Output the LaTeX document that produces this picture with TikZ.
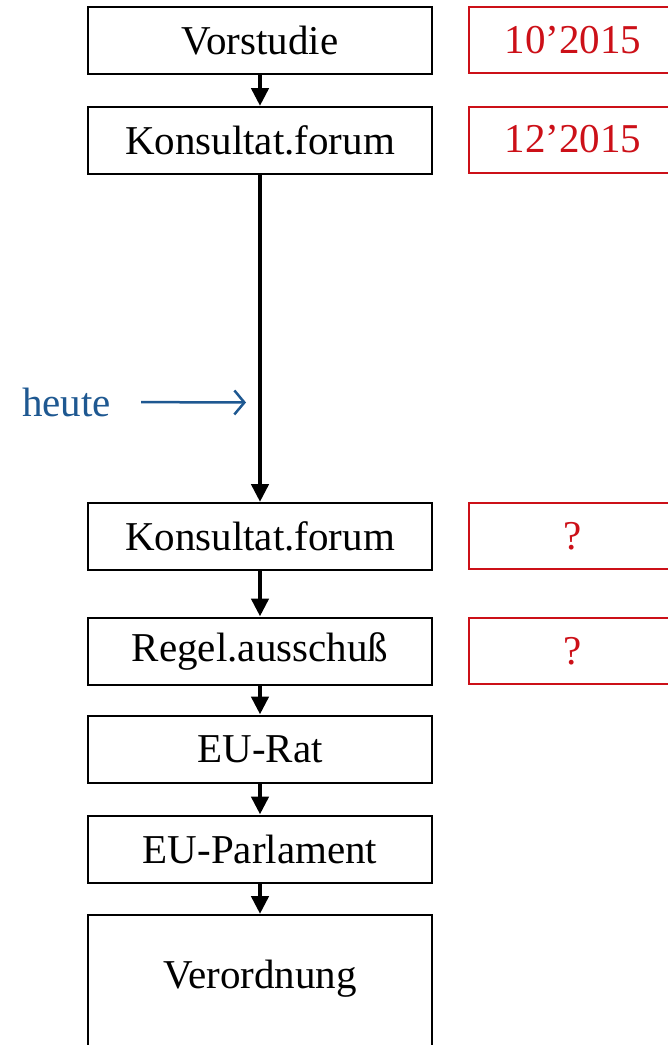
\documentclass[tikz,border=0pt]{standalone}
\usepackage{fontspec}
\setmainfont{Liberation Serif}
\usepackage{tikz}
\usetikzlibrary{positioning, arrows.meta}
\definecolor{datered}{RGB}{204,16,24}
\definecolor{heuteblue}{RGB}{30,88,145}

\begin{document}
\begin{tikzpicture}[x=1pt, y=-1pt,
  font=\fontsize{41}{49}\selectfont,
  stage/.style={draw, line width=2pt, minimum width=344pt, minimum height=67pt, inner sep=0pt},
  datebox/.style={draw=datered, line width=2pt, text=datered, minimum width=208pt, minimum height=66pt, inner sep=0pt},
  flow/.style={line width=4.5pt, -{Triangle[length=18pt, width=17pt]}}]
% picture area (the date boxes and the last box run past its edge)
\useasboundingbox (0,0) rectangle (668,1045);
\clip (0,0) rectangle (668,1045);

% process steps, top to bottom
\node[stage] (vorst)  at (260,40.5)  {Vorstudie};
\node[stage] (kons1)  at (260,140.5) {Konsultat.forum};
\node[stage] (kons2)  at (260,536.5) {Konsultat.forum};
\node[stage] (regel)  at (260,651)   {Regel.ausschuß};
\node[stage] (rat)    at (260,749)   {EU-Rat};
\node[stage] (parl)   at (260,849)   {EU-Parlament};
\node[stage, minimum height=150pt, text height=28pt, text depth=32pt, anchor=north] (verord) at (260,914) {Verordnung};

% dates on the right
\node[datebox] (d1) at (573,40)    {10’2015};
\node[datebox] (d2) at (573,139.5) {12’2015};
\node[datebox] (d3) at (573,536)   {?};
\node[datebox] (d4) at (573,651)   {?};

% arrows between the steps
\draw[flow] (vorst) -- (kons1);
\draw[flow] (kons1) -- (kons2);
\draw[flow] (kons2) -- (regel);
\draw[flow] (regel) -- (rat);
\draw[flow] (rat)   -- (parl);
\draw[flow] (parl)  -- (verord);

% today marker
\node[text=heuteblue, inner sep=0pt, anchor=base west] (heute) at (22,416) {heute};
\coordinate (heutetip) at (246,402.5);
\draw[heuteblue, line width=2.5pt, shorten <=30pt, -{Straight Barb[length=10pt, width=24pt]}] (heute.east) -- (heutetip);
\end{tikzpicture}
\end{document}
